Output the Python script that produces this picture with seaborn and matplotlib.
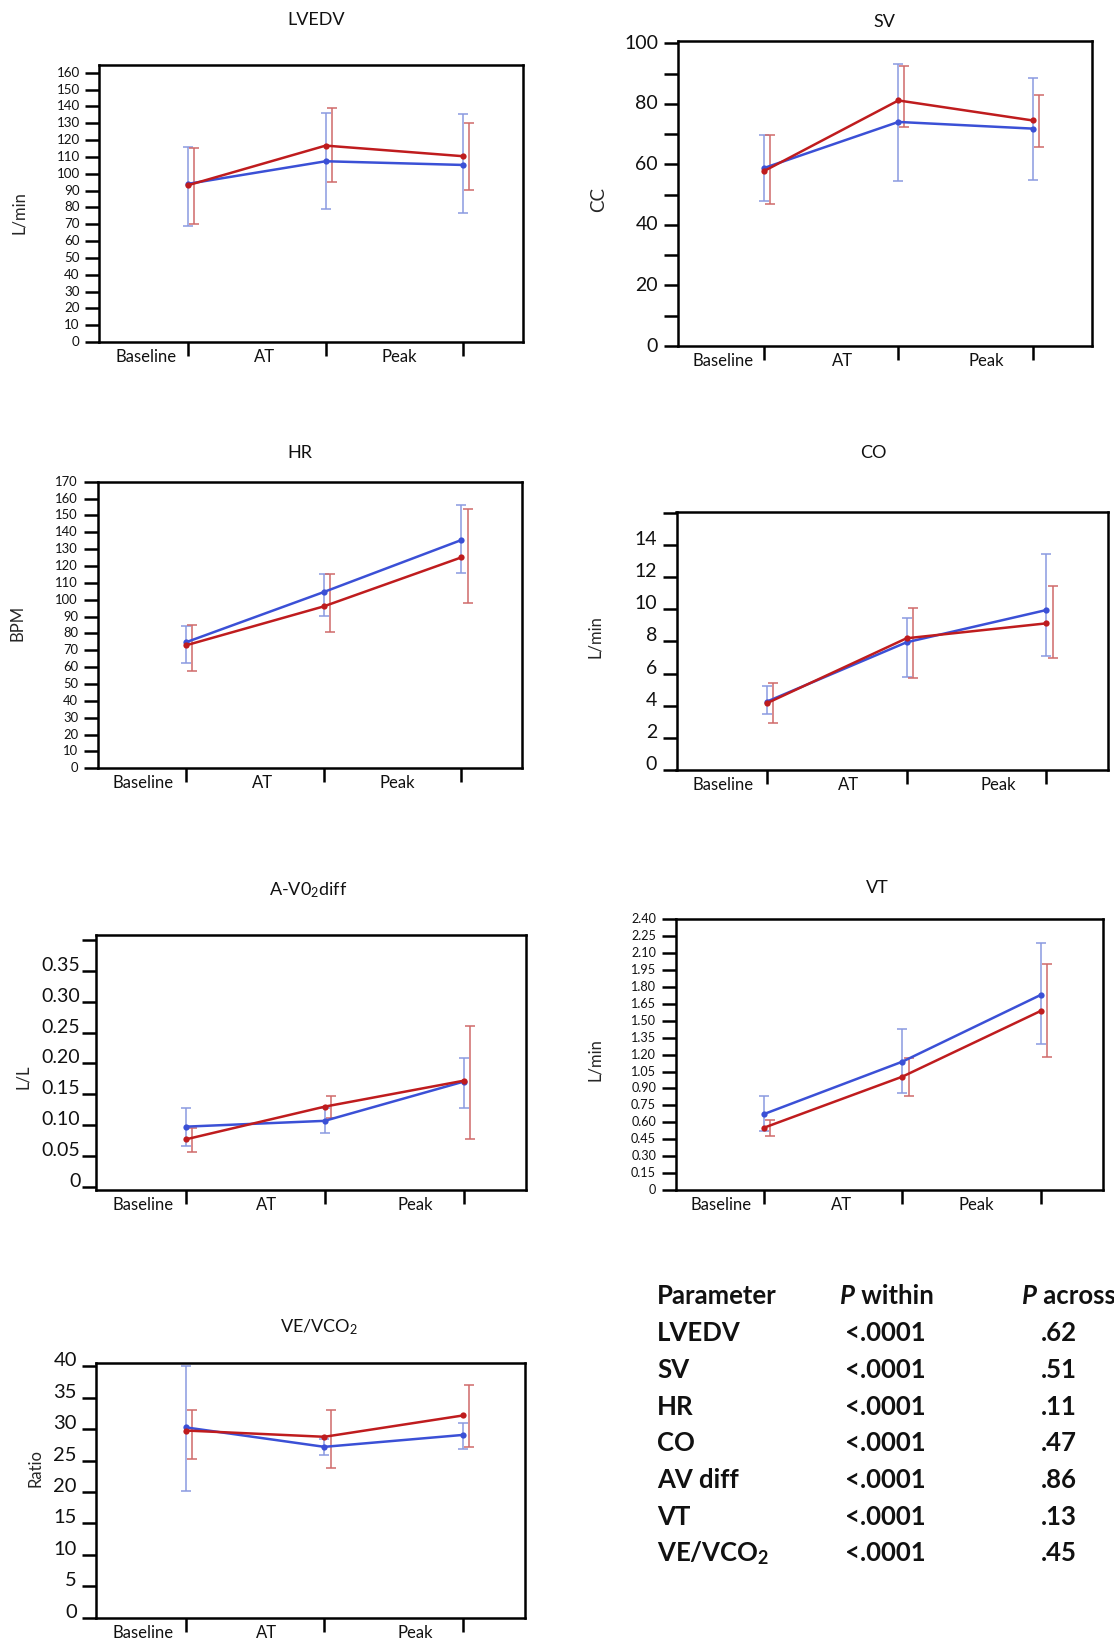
import matplotlib
matplotlib.use("Agg")
import matplotlib.pyplot as plt
import numpy as np
import pandas as pd
import seaborn as sns

W, H = 1114, 1643
BLUE, BLUE_ERR = "#3b50d6", "#8a9ae0"
RED, RED_ERR = "#bf1c1e", "#d06a6a"

stages = ["Baseline", "AT", "Peak"]

# group A (blue) / group B (red): mean, lower and upper bar ends
lvedv_a = [94.0, 107.4, 105.2]
lvedv_a_lo = [69.2, 78.9, 76.5]
lvedv_a_hi = [116.0, 136.3, 135.3]
lvedv_b = [93.2, 116.7, 110.4]
lvedv_b_lo = [70.2, 95.3, 90.2]
lvedv_b_hi = [115.0, 138.8, 130.0]

sv_a = [58.8, 74.0, 71.8]
sv_a_lo = [47.9, 54.5, 54.7]
sv_a_hi = [69.8, 93.2, 88.6]
sv_b = [57.8, 81.1, 74.5]
sv_b_lo = [46.8, 72.3, 65.7]
sv_b_hi = [69.8, 92.6, 82.9]

hr_a = [74.7, 104.5, 135.4]
hr_a_lo = [62.3, 90.5, 115.6]
hr_a_hi = [84.4, 115.2, 155.9]
hr_b = [72.9, 96.0, 125.1]
hr_b_lo = [57.9, 80.6, 98.2]
hr_b_hi = [85.0, 115.0, 153.7]

co_a = [4.25, 7.95, 9.96]
co_a_lo = [3.46, 5.81, 7.1]
co_a_hi = [5.23, 9.48, 13.44]
co_b = [4.15, 8.2, 9.13]
co_b_lo = [2.95, 5.7, 6.95]
co_b_hi = [5.44, 10.06, 11.45]

avo2_a = [0.0976, 0.107, 0.1705]
avo2_a_lo = [0.066, 0.087, 0.128]
avo2_a_hi = [0.127, 0.128, 0.2095]
avo2_b = [0.077, 0.130, 0.172]
avo2_b_lo = [0.056, 0.112, 0.077]
avo2_b_hi = [0.095, 0.148, 0.261]

vt_a = [0.674, 1.138, 1.729]
vt_a_lo = [0.52, 0.86, 1.292]
vt_a_hi = [0.834, 1.425, 2.193]
vt_b = [0.553, 1.005, 1.587]
vt_b_lo = [0.479, 0.834, 1.182]
vt_b_hi = [0.62, 1.17, 2.0]

ve_a = [30.3, 27.2, 29.1]
ve_a_lo = [20.2, 25.9, 26.8]
ve_a_hi = [40.0, 28.5, 31.0]
ve_b = [29.8, 28.8, 32.2]
ve_b_lo = [25.2, 23.9, 27.1]
ve_b_hi = [33.1, 33.1, 37.1]

table_params = ["LVEDV", "SV", "HR", "CO", "AV diff", "VT", r"VE/VCO$_\mathbf{2}$"]
table_within = ["<.0001"] * 7
table_across = [".62", ".51", ".11", ".47", ".86", ".13", ".45"]

sns.set_theme(style="white")
plt.rcParams["font.family"] = ["Lato", "DejaVu Sans"]
plt.rcParams["mathtext.fontset"] = "custom"
plt.rcParams["mathtext.rm"] = "Lato"
plt.rcParams["mathtext.it"] = "Lato:italic"
plt.rcParams["mathtext.bf"] = "Lato:bold"
plt.rcParams["axes.edgecolor"] = "black"
plt.rcParams["text.color"] = "#111111"
plt.rcParams["xtick.color"] = "#111111"
plt.rcParams["ytick.color"] = "#111111"

fig = plt.figure(figsize=(W / 100, H / 100), dpi=100)


def draw_panel(box, a, a_lo, a_hi, b, b_lo, b_hi, title, title_xy, ylabel, ylabel_xy,
               ylim, yticks, ylabels, xlim, label_pos, tick_fs, tick_va="center", tick_pad=4,
               ylabel_fs=12, xlab_fs=12):
    l, t, r, btm = box
    ax = fig.add_axes([l / W, 1 - btm / H, (r - l) / W, (btm - t) / H])
    x = np.arange(3)
    for m, lo, hi, c, off in [(a, a_lo, a_hi, BLUE_ERR, 0.0), (b, b_lo, b_hi, RED_ERR, 0.045)]:
        m, lo, hi = np.array(m), np.array(lo), np.array(hi)
        ax.errorbar(x + off, m, yerr=[m - lo, hi - m], fmt="none", ecolor=c,
                    elinewidth=1.1, capsize=3.3, capthick=1.1, zorder=2)
    df = pd.DataFrame({"stage": np.tile(x, 2), "value": list(a) + list(b),
                       "group": ["A"] * 3 + ["B"] * 3})
    sns.lineplot(data=df, x="stage", y="value", hue="group", palette={"A": BLUE, "B": RED},
                 marker="o", markersize=4.5, markeredgewidth=0, linewidth=1.8,
                 errorbar=None, legend=False, ax=ax, zorder=3)
    ax.set_xlim(*xlim)
    ax.set_ylim(*ylim)
    ax.set_xticks(x)
    ax.set_xticklabels([])
    ax.set_xticks(label_pos, minor=True)
    ax.set_xticklabels(stages, minor=True, fontsize=xlab_fs)
    ax.tick_params(axis="x", which="major", bottom=True, direction="out", length=10,
                   width=1.8, color="black")
    ax.tick_params(axis="x", which="minor", bottom=True, length=0, pad=5)
    ax.set_yticks(yticks)
    ax.set_yticklabels(ylabels, fontsize=tick_fs)
    ax.tick_params(axis="y", left=True, direction="out", length=10, width=1.8, color="black",
                   pad=tick_pad)
    for lab in ax.get_yticklabels():
        lab.set_va(tick_va)
    for s in ax.spines.values():
        s.set_linewidth(1.8)
        s.set_color("black")
    ax.set_xlabel("")
    ax.set_ylabel(ylabel, fontsize=ylabel_fs, va="center")
    ax.yaxis.set_label_coords((ylabel_xy[0] - l) / (r - l), (btm - ylabel_xy[1]) / (btm - t))
    ax.text((title_xy[0] - l) / (r - l), (btm - title_xy[1]) / (btm - t), title,
            transform=ax.transAxes, ha="center", va="center", fontsize=13)
    return ax


small_pos = [-0.31, 0.556, 1.535]
big_pos = [-0.31, 0.582, 1.655]

ax1 = draw_panel((99.3, 65, 523, 342), lvedv_a, lvedv_a_lo, lvedv_a_hi,
                 lvedv_b, lvedv_b_lo, lvedv_b_hi,
                 "LVEDV", (316, 20), "L/min", (19.5, 213), (0, 164.6), np.arange(0, 161, 10),
                 [str(v) for v in range(0, 161, 10)], (-0.647, 2.436), small_pos, 9.6)

draw_panel((677.5, 40.5, 1092, 346), sv_a, sv_a_lo, sv_a_hi, sv_b, sv_b_lo, sv_b_hi,
           "SV", (884, 22), "CC", (599, 200), (0, 100.9), np.arange(0, 101, 10),
           [str(v) if v % 20 == 0 else "" for v in range(0, 101, 10)], (-0.646, 2.443),
           big_pos, 14, tick_va="center", ylabel_fs=13.5)

draw_panel((97.5, 481.7, 522, 768.3), hr_a, hr_a_lo, hr_a_hi, hr_b, hr_b_lo, hr_b_hi,
           "HR", (300, 453), "BPM", (17.5, 623), (0, 170), np.arange(0, 171, 10),
           [str(v) for v in range(0, 171, 10)], (-0.64, 2.44), small_pos, 9.4)

draw_panel((676.5, 511.7, 1108, 770), co_a, co_a_lo, co_a_hi, co_b, co_b_lo, co_b_hi,
           "CO", (873, 453), "L/min", (595, 637), (0, 16.08), np.arange(0, 17, 2),
           [str(v) if v < 16 else "" for v in range(0, 17, 2)], (-0.644, 2.44),
           big_pos, 14, tick_va="baseline")

draw_panel((95.7, 935, 525.7, 1190), avo2_a, avo2_a_lo, avo2_a_hi, avo2_b, avo2_b_lo, avo2_b_hi,
           r"A-V0$_2$diff", (308.5, 890), "L/L", (23.5, 1077), (-0.005, 0.408),
           np.arange(0, 0.401, 0.05),
           ["0", "0.05", "0.10", "0.15", "0.20", "0.25", "0.30", "0.35", ""],
           (-0.648, 2.447), big_pos, 14, tick_va="baseline", tick_pad=1)

draw_panel((675.5, 919.3, 1102.5, 1190), vt_a, vt_a_lo, vt_a_hi, vt_b, vt_b_lo, vt_b_hi,
           "VT", (877, 888), "L/min", (595, 1060), (0, 2.40), np.arange(0, 2.401, 0.15),
           ["0"] + ["%.2f" % v for v in np.arange(0.15, 2.401, 0.15)], (-0.642, 2.448),
           small_pos, 9.1)

draw_panel((96.4, 1363.3, 525, 1617.7), ve_a, ve_a_lo, ve_a_hi, ve_b, ve_b_lo, ve_b_hi,
           r"VE/VCO$_2$", (319, 1327), "Ratio", (35.5, 1468), (0, 40.5), np.arange(0, 41, 5),
           [str(v) for v in range(0, 41, 5)], (-0.643, 2.446), big_pos, 14.5,
           tick_va="baseline")

# p-value table
row_y = [1333.3, 1370, 1406.7, 1443.3, 1480, 1516.7, 1553]
tfs = 18.5
fig.text(657 / W, 1 - 1296 / H, "Parameter", fontsize=tfs, fontweight="bold", va="center")
for hx, word in [(840, " within"), (1022, " across")]:
    p = fig.text(hx / W, 1 - 1296 / H, "P", fontsize=tfs, fontweight="bold",
                 fontstyle="italic", va="center")
    ax1.annotate(word, xy=(1, 0), xycoords=p, fontsize=tfs, fontweight="bold",
                 ha="left", va="bottom", annotation_clip=False)
for yy, name, pw, pa in zip(row_y, table_params, table_within, table_across):
    fig.text(657 / W, 1 - yy / H, name, fontsize=tfs, fontweight="bold", va="center")
    fig.text(845 / W, 1 - yy / H, pw, fontsize=tfs, fontweight="bold", va="center")
    fig.text(1041 / W, 1 - yy / H, pa, fontsize=tfs, fontweight="bold", va="center")

fig.savefig("out.png", dpi=100, facecolor="white")
